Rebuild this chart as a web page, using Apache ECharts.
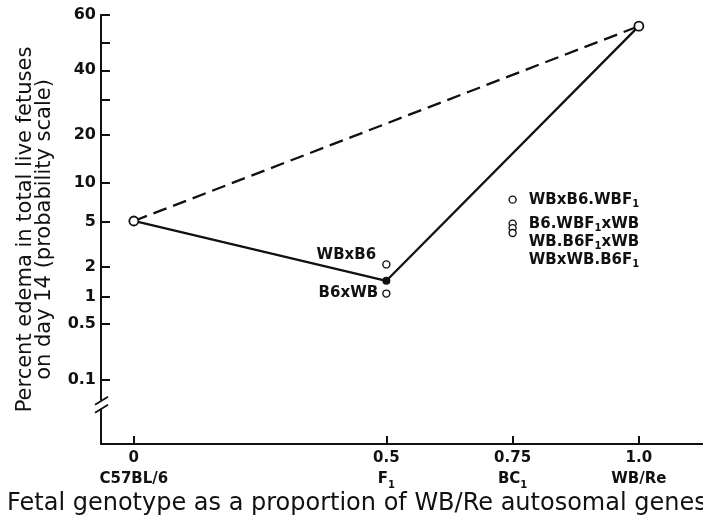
<!DOCTYPE html>
<html>
<head>
<meta charset="utf-8">
<script src="https://cdn.jsdelivr.net/npm/echarts@6.0.0/dist/echarts.min.js"></script>
<style>
  html, body { margin: 0; padding: 0; background: #fff; }
  #chart { width: 703px; height: 522px; }
</style>
</head>
<body>
<div id="chart"></div>
<script>
// x ticks: proportion of WB/Re genes + genotype names
const xTicks = [0, 0.5, 0.75, 1.0];
const xTickTop = ['0', '0.5', '0.75', '1.0'];
const xTickBottom = ['C57BL/6', 'F{s|1}', 'BC{s|1}', 'WB/Re'];

// y ticks in percent (probability scale)
const yTicks = [0.1, 0.5, 1, 2, 5, 10, 20, 40, 60];
const yMinorTicks = [30, 50];

// main lines (percent edema)
const mainX = [0, 0.5, 1.0];
const mainY = [5.1, 1.45, 56];

// dashed line between parental strains
const dashX = [0, 1.0];
const dashY = [5.1, 56];

// crosses shown as open circles
const crossNames = ['WBxB6', 'B6xWB', 'WBxB6.WBF{s|1}', 'B6.WBF{s|1}xWB', 'WB.B6F{s|1}xWB', 'WBxWB.B6F{s|1}'];
const crossX = [0.5, 0.5, 0.75, 0.75, 0.75, 0.75];
const crossY = [2.1, 1.07, 7.5, 4.85, 4.45, 4.05];

// inverse normal cdf (Acklam) -> probability scale
function probit(p) {
  const a = [-3.969683028665376e+01, 2.209460984245205e+02, -2.759285104469687e+02, 1.383577518672690e+02, -3.066479806614716e+01, 2.506628277459239e+00];
  const b = [-5.447609879822406e+01, 1.615858368580409e+02, -1.556989798598866e+02, 6.680131188771972e+01, -1.328068155288572e+01];
  const c = [-7.784894002430293e-03, -3.223964580411365e-01, -2.400758277161838e+00, -2.549732539343734e+00, 4.374664141464968e+00, 2.938163982698783e+00];
  const d = [7.784695709041462e-03, 3.224671290700398e-01, 2.445134137142996e+00, 3.754408661907416e+00];
  const pl = 0.02425;
  let q, r;
  if (p < pl) {
    q = Math.sqrt(-2 * Math.log(p));
    return (((((c[0]*q+c[1])*q+c[2])*q+c[3])*q+c[4])*q+c[5]) / ((((d[0]*q+d[1])*q+d[2])*q+d[3])*q+1);
  }
  if (p <= 1 - pl) {
    q = p - 0.5; r = q * q;
    return (((((a[0]*r+a[1])*r+a[2])*r+a[3])*r+a[4])*r+a[5])*q / (((((b[0]*r+b[1])*r+b[2])*r+b[3])*r+b[4])*r+1);
  }
  q = Math.sqrt(-2 * Math.log(1 - p));
  return -(((((c[0]*q+c[1])*q+c[2])*q+c[3])*q+c[4])*q+c[5]) / ((((d[0]*q+d[1])*q+d[2])*q+d[3])*q+1);
}
const pr = v => probit(v / 100);

const FONT = 'DejaVu Sans';
const INK = '#111';
const xMin = -0.065;
const xMax = 1.127;
const yMax = pr(60);
const yMin = -3.68;
const yBreak = -3.32;

const yTickVals = yTicks.map(pr);
const rich = {
  n: { fontFamily: FONT, fontWeight: 'bold', fontSize: 15, color: INK, lineHeight: 19 },
  s: { fontFamily: FONT, fontWeight: 'bold', fontSize: 10, color: INK, lineHeight: 10, verticalAlign: 'bottom' }
};
const richX = {
  n: { fontFamily: FONT, fontWeight: 'bold', fontSize: 15, color: INK, lineHeight: 21 },
  s: { fontFamily: FONT, fontWeight: 'bold', fontSize: 10, color: INK, lineHeight: 11, verticalAlign: 'bottom' }
};

function labelText(t) {
  // wrap plain parts in {n|...}
  return t.split(/(\{s\|1\})/).filter(x => x).map(x => x.startsWith('{s|') ? x : '{n|' + x + '}').join('');
}

let myChart = echarts.init(document.getElementById('chart'));
let labelPos = [
  { position: 'left', offset: [0, -9], distance: 6 },
  { position: 'left', distance: 4 },
  { position: 'right', distance: 12 },
  { position: 'right', distance: 12 },
  { position: 'right', distance: 12, offset: [0, 14] },
  { position: 'right', distance: 12, offset: [0, 27] }
];

let option = {
  animation: false,
  backgroundColor: '#fff',
  title: {
    text: 'Fetal genotype as a proportion of WB/Re autosomal genes',
    left: 7,
    top: 491,
    padding: 0,
    textStyle: { fontFamily: FONT, fontSize: 24, lineHeight: 26, fontWeight: 'normal', color: INK }
  },
  grid: { left: 101, right: 0, top: 15, bottom: 78 },
  xAxis: {
    type: 'value',
    min: xMin,
    max: xMax,
    splitLine: { show: false },
    axisLine: { onZero: false, lineStyle: { color: INK, width: 2 } },
    axisTick: { inside: true, length: 8, customValues: xTicks, lineStyle: { color: INK, width: 2 } },
    axisLabel: {
      customValues: xTicks,
      margin: 4,
      color: INK,
      formatter: v => {
        const i = xTicks.findIndex(t => Math.abs(t - v) < 1e-9);
        return i < 0 ? '' : '{n|' + xTickTop[i] + '}\n' + labelText(xTickBottom[i]);
      },
      rich: richX
    }
  },
  yAxis: {
    type: 'value',
    min: yMin,
    max: yMax,
    name: 'Percent edema in total live fetuses\non day 14 (probability scale)',
    nameLocation: 'middle',
    nameGap: 47,
    nameTextStyle: { fontFamily: FONT, fontSize: 21, color: INK, lineHeight: 19 },
    splitLine: { show: false },
    axisLine: { onZero: false, lineStyle: { color: INK, width: 2 } },
    axisTick: { inside: true, length: 9, customValues: yTickVals.concat(yMinorTicks.map(pr)), lineStyle: { color: INK, width: 2 } },
    axisLabel: {
      customValues: yTickVals,
      margin: 5,
      fontFamily: FONT, fontWeight: 'bold', fontSize: 16, color: INK,
      formatter: v => {
        const i = yTickVals.findIndex(t => Math.abs(t - v) < 1e-9);
        return i < 0 ? '' : String(yTicks[i]);
      }
    }
  },
  series: [
    {
      type: 'line',
      data: mainX.map((x, i) => [x, pr(mainY[i])]),
      symbol: 'none',
      lineStyle: { color: INK, width: 2.3 },
      z: 2
    },
    {
      type: 'line',
      data: dashX.map((x, i) => [x, pr(dashY[i])]),
      symbol: 'none',
      lineStyle: { color: INK, width: 2.3, type: [14, 7] },
      z: 2
    },
    {
      type: 'scatter',
      data: [[dashX[0], pr(dashY[0])], [dashX[1], pr(dashY[1])]],
      symbol: 'circle',
      symbolSize: 9,
      itemStyle: { color: '#fff', borderColor: INK, borderWidth: 1.8, opacity: 1 },
      z: 4
    },
    {
      type: 'scatter',
      data: [[mainX[1], pr(mainY[1])]],
      symbol: 'circle',
      symbolSize: 8,
      itemStyle: { color: INK, opacity: 1 },
      z: 4
    },
    {
      type: 'scatter',
      data: crossNames.map((n, i) => ({
        name: n,
        value: [crossX[i], pr(crossY[i])],
        label: labelPos[i]
      })),
      symbol: 'circle',
      symbolSize: 7,
      itemStyle: { color: '#fff', borderColor: INK, borderWidth: 1.4, opacity: 1 },
      label: {
        show: true,
        color: INK,
        formatter: p => labelText(p.name),
        rich: rich
      },
      z: 4
    }
  ]
};
myChart.setOption(option);

// axis break marks on y axis
const bp = myChart.convertToPixel({ gridIndex: 0 }, [xMin, yBreak]);
myChart.setOption({
  graphic: [
    { type: 'rect', shape: { x: bp[0] - 4, y: bp[1] - 4, width: 8, height: 8 }, style: { fill: '#fff' }, z: 10 },
    { type: 'line', shape: { x1: bp[0] - 6, y1: bp[1] + 0, x2: bp[0] + 7, y2: bp[1] - 8 }, style: { stroke: INK, lineWidth: 2 }, z: 11 },
    { type: 'line', shape: { x1: bp[0] - 6, y1: bp[1] + 8, x2: bp[0] + 7, y2: bp[1] + 0 }, style: { stroke: INK, lineWidth: 2 }, z: 11 }
  ]
});
</script>
</body>
</html>
